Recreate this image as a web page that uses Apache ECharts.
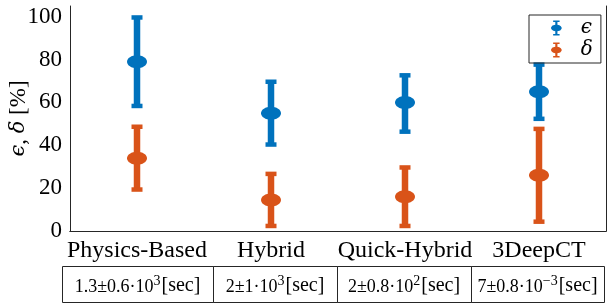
<!DOCTYPE html>
<html>
<head>
<meta charset="utf-8">
</head>
<body style="margin:0">
<div id="container" style="width:608px;height:305px"></div>
<script src="https://cdn.jsdelivr.net/npm/echarts@6/dist/echarts.min.js"></script>
<script>
// methods and measured errors (mean, low, high) in percent
var methods = ['Physics-Based', 'Hybrid', 'Quick-Hybrid', '3DeepCT'];
var epsMean = [79, 55, 60, 65];
var epsLow = [58, 40, 46, 52];
var epsHigh = [100, 70, 73, 78];
var deltaMean = [34, 14.5, 16, 26];
var deltaLow = [19, 2, 2, 4];
var deltaHigh = [49, 27, 30, 48];
// runtime row below the chart: mantissa part and exponent
var runtimeText = ['1.3±0.6·10', '2±1·10', '2±0.8·10', '7±0.8·10'];
var runtimeExp = ['3', '3', '2', '−3'];

var BLUE = '#0072BD';
var ORANGE = '#D95319';
var AXIS = '#262626';
var SERIF = 'Liberation Serif';

var chart = echarts.init(document.getElementById('container'), null, { renderer: 'canvas' });

function toRows(mean, low, high) {
  return mean.map(function (m, i) { return [i, m, low[i], high[i]]; });
}

function errorBar(color) {
  return function (params, api) {
    var x = api.value(0);
    var c = api.coord([x, api.value(1)]);
    var lo = api.coord([x, api.value(2)]);
    var hi = api.coord([x, api.value(3)]);
    var st = { fill: color };
    return {
      type: 'group',
      children: [
        { type: 'rect', shape: { x: c[0] - 3.25, y: hi[1], width: 6.5, height: lo[1] - hi[1] }, style: st },
        { type: 'rect', shape: { x: c[0] - 5.5, y: hi[1] - 1.5, width: 11, height: 4.5 }, style: st },
        { type: 'rect', shape: { x: c[0] - 5.5, y: lo[1] - 3, width: 11, height: 4.5 }, style: st },
        { type: 'ellipse', shape: { cx: c[0], cy: c[1], rx: 10, ry: 6.5 }, style: st }
      ]
    };
  };
}

var barIcon = 'path://M2,0H8V1.5H6V4.06A5,3,0,0,1,6,9.94V12.5H8V14H2V12.5H4V9.94A5,3,0,0,1,4,4.06V1.5H2Z';

// table cell borders (x) under the axis
var cellEdges = [62, 213, 337, 471, 604];
var tableTop = 266, tableBottom = 302;
var tableGraphics = [];
for (var i = 0; i < 4; i++) {
  tableGraphics.push({
    type: 'rect',
    shape: { x: cellEdges[i] + 0.5, y: tableTop + 0.5, width: cellEdges[i + 1] - cellEdges[i], height: tableBottom - tableTop },
    style: { fill: 'none', stroke: AXIS, lineWidth: 1 }
  });
  tableGraphics.push({
    type: 'text',
    x: (cellEdges[i] + cellEdges[i + 1]) / 2,
    y: (tableTop + tableBottom) / 2 + 1,
    style: {
      text: '{n|' + runtimeText[i] + '}{s|' + runtimeExp[i] + '}{u|[sec]}',
      align: 'center',
      verticalAlign: 'middle',
      rich: {
        n: { fontFamily: SERIF, fontSize: 18, fill: '#000', lineHeight: 22, verticalAlign: 'bottom' },
        s: { fontFamily: SERIF, fontSize: 14, fill: '#000', lineHeight: 13, verticalAlign: 'top', padding: [0, 1, 0, 0] },
        u: { fontFamily: SERIF, fontSize: 20, fill: '#000', lineHeight: 22, verticalAlign: 'bottom' }
      }
    }
  });
}

var option = {
  animation: false,
  grid: { left: 70, right: 2, top: 6, bottom: 74, containLabel: false, outerBoundsMode: 'none' },
  legend: {
    left: 529,
    top: 15,
    orient: 'vertical',
    borderColor: AXIS,
    borderWidth: 1,
    padding: [3, 8, 3, 22],
    itemWidth: 11,
    itemHeight: 15,
    itemGap: 2,
    textStyle: { fontFamily: 'DejaVu Serif', fontStyle: 'italic', fontSize: 20, lineHeight: 16, padding: [0, 0, 0, 14], color: '#000' },
    data: [
      { name: 'ϵ', icon: barIcon, itemStyle: { color: BLUE } },
      { name: 'δ', icon: barIcon, itemStyle: { color: ORANGE } }
    ]
  },
  xAxis: [
    {
      type: 'category',
      data: methods,
      position: 'bottom',
      axisLine: { lineStyle: { color: AXIS } },
      axisTick: { inside: true, alignWithLabel: true, length: 5, lineStyle: { color: AXIS } },
      axisLabel: { interval: 0, hideOverlap: false, fontFamily: SERIF, fontSize: 24, color: '#000', margin: 8 }
    },
    {
      type: 'category',
      data: methods,
      position: 'top',
      axisLine: { lineStyle: { color: AXIS } },
      axisTick: { inside: true, alignWithLabel: true, length: 5, lineStyle: { color: AXIS } },
      axisLabel: { show: false }
    }
  ],
  yAxis: [
    {
      type: 'value',
      min: 0,
      max: 105,
      interval: 20,
      position: 'left',
      name: '{i|ϵ}{r|, }{i|δ}{r| [%]}',
      nameLocation: 'middle',
      nameGap: 40,
      nameMoveOverlap: false,
      nameTextStyle: {
        rich: {
          i: { fontFamily: 'DejaVu Serif', fontStyle: 'italic', fontSize: 21, color: '#000' },
          r: { fontFamily: SERIF, fontSize: 23, color: '#000' }
        }
      },
      splitLine: { show: false },
      axisLine: { show: true, lineStyle: { color: AXIS } },
      axisTick: { inside: true, length: 5, lineStyle: { color: AXIS } },
      axisLabel: {
        fontFamily: SERIF, fontSize: 23, color: '#000', margin: 8,
        formatter: function (v) { return v % 20 === 0 ? v : ''; }
      }
    },
    {
      type: 'value',
      min: 0,
      max: 105,
      interval: 20,
      position: 'right',
      splitLine: { show: false },
      axisLine: { show: true, lineStyle: { color: AXIS } },
      axisTick: { inside: true, length: 5, lineStyle: { color: AXIS } },
      axisLabel: { show: false }
    }
  ],
  series: [
    {
      name: 'ϵ',
      type: 'custom',
      renderItem: errorBar(BLUE),
      itemStyle: { color: BLUE },
      encode: { x: 0, y: [1, 2, 3] },
      data: toRows(epsMean, epsLow, epsHigh)
    },
    {
      name: 'δ',
      type: 'custom',
      renderItem: errorBar(ORANGE),
      itemStyle: { color: ORANGE },
      encode: { x: 0, y: [1, 2, 3] },
      data: toRows(deltaMean, deltaLow, deltaHigh)
    }
  ],
  graphic: tableGraphics
};

chart.setOption(option);
</script>
</body>
</html>
